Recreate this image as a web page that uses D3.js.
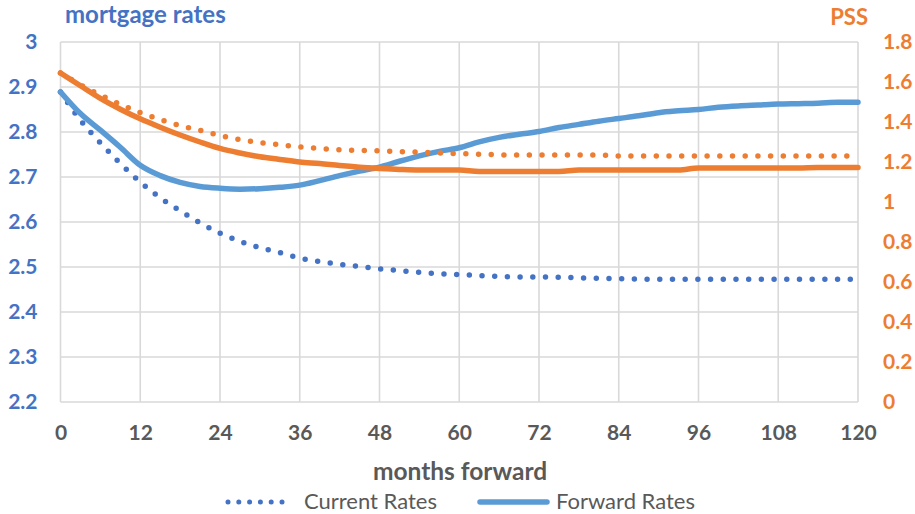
<!DOCTYPE html>
<html>
<head>
<meta charset="utf-8">
<script src="https://cdn.jsdelivr.net/npm/d3@7"></script>
<style>
  html, body { margin: 0; padding: 0; background: #ffffff; }
  svg { display: block; font-family: Lato, "Open Sans", sans-serif; }
</style>
</head>
<body>
<svg id="chart" width="915" height="514"></svg>
<script>
// Months forward (every 3 months)
const months = d3.range(0, 121, 3);

// Mortgage rates (left axis)
const currentRates = [
  2.889, 2.826, 2.776, 2.730, 2.689, 2.654, 2.625, 2.598, 2.575, 2.557,
  2.543, 2.532, 2.520, 2.512, 2.506, 2.501, 2.496, 2.492, 2.488, 2.485,
  2.483, 2.481, 2.479, 2.478, 2.478, 2.477, 2.476, 2.475, 2.474, 2.473,
  2.473, 2.473, 2.473, 2.473, 2.473, 2.473, 2.473, 2.473, 2.473, 2.473,
  2.473
];
const forwardRates = [
  2.889, 2.841, 2.804, 2.766, 2.726, 2.703, 2.688, 2.679, 2.675, 2.673,
  2.674, 2.677, 2.682, 2.692, 2.703, 2.713, 2.722, 2.735, 2.747, 2.757,
  2.765, 2.778, 2.788, 2.795, 2.801, 2.810, 2.817, 2.824, 2.830, 2.836,
  2.843, 2.847, 2.850, 2.855, 2.858, 2.860, 2.862, 2.863, 2.864, 2.866,
  2.866
];

// PSS (right axis)
const currentPSS = [
  1.645, 1.586, 1.535, 1.488, 1.447, 1.412, 1.382, 1.358, 1.332, 1.312,
  1.297, 1.286, 1.276, 1.268, 1.261, 1.258, 1.256, 1.252, 1.249, 1.245,
  1.242, 1.239, 1.236, 1.235, 1.235, 1.235, 1.235, 1.235, 1.230, 1.230,
  1.230, 1.230, 1.230, 1.230, 1.230, 1.230, 1.230, 1.230, 1.230, 1.230,
  1.230
];
const forwardPSS = [
  1.645, 1.581, 1.518, 1.464, 1.416, 1.374, 1.335, 1.300, 1.268, 1.245,
  1.226, 1.213, 1.200, 1.192, 1.182, 1.174, 1.168, 1.163, 1.160, 1.160,
  1.160, 1.152, 1.152, 1.152, 1.152, 1.152, 1.160, 1.160, 1.160, 1.160,
  1.160, 1.160, 1.170, 1.170, 1.170, 1.170, 1.170, 1.170, 1.173, 1.173,
  1.173
];

// Tick values
const xTicks = d3.range(0, 121, 12);
const leftTicks = [2.2, 2.3, 2.4, 2.5, 2.6, 2.7, 2.8, 2.9, 3];
const rightTicks = [0, 0.2, 0.4, 0.6, 0.8, 1, 1.2, 1.4, 1.6, 1.8];

// Labels
const leftTitle = "mortgage rates";
const rightTitle = "PSS";
const xTitle = "months forward";
const legendItems = ["Current Rates", "Forward Rates"];

const colors = {
  current: "#4472C4",
  forward: "#5B9BD5",
  pss: "#ED7D31",
  grid: "#D9D9D9",
  text: "#595959"
};

const svg = d3.select("#chart");
const plot = { left: 60.5, right: 858, top: 42, bottom: 402 };

const x = d3.scaleLinear().domain([0, 120]).range([plot.left, plot.right]);
const yL = d3.scaleLinear().domain([2.2, 3]).range([plot.bottom, plot.top]);
const yR = d3.scaleLinear().domain([0, 1.8]).range([plot.bottom, plot.top]);

// Gridlines
const grid = svg.append("g").attr("stroke", colors.grid).attr("stroke-width", 1.6);
grid.selectAll("line.h").data(leftTicks).join("line")
  .attr("x1", plot.left).attr("x2", plot.right)
  .attr("y1", d => yL(d)).attr("y2", d => yL(d));
grid.selectAll("line.v").data(xTicks).join("line")
  .attr("y1", plot.top).attr("y2", plot.bottom)
  .attr("x1", d => x(d)).attr("x2", d => x(d));

// Axes (labels only)
const fmt = d => String(+d.toFixed(1));
const axisFont = "Lato, 'Open Sans', sans-serif";

const gLeft = svg.append("g").attr("transform", `translate(${plot.left},0)`)
  .call(d3.axisLeft(yL).tickValues(leftTicks).tickFormat(fmt).tickSize(0).tickPadding(23));
const gRight = svg.append("g").attr("transform", `translate(${plot.right},0)`)
  .call(d3.axisRight(yR).tickValues(rightTicks).tickFormat(fmt).tickSize(0).tickPadding(25));
const gBottom = svg.append("g").attr("transform", `translate(0,${plot.bottom})`)
  .call(d3.axisBottom(x).tickValues(xTicks).tickFormat(d3.format("d")).tickSize(0).tickPadding(23));

[gLeft, gRight, gBottom].forEach(g => {
  g.select(".domain").remove();
  g.selectAll("text").attr("font-family", axisFont).attr("font-size", 21).attr("font-weight", 700);
});
gLeft.selectAll("text").attr("fill", colors.current);
gRight.selectAll("text").attr("fill", colors.pss);
gBottom.selectAll("text").attr("fill", colors.text);

// Series
const curve = d3.curveMonotoneX;
const lineL = vals => d3.line().curve(curve).x((d, i) => x(months[i])).y(d => yL(d))(vals);
const lineR = vals => d3.line().curve(curve).x((d, i) => x(months[i])).y(d => yR(d))(vals);

const series = svg.append("g").attr("fill", "none").attr("stroke-linejoin", "round");

series.append("path").attr("d", lineL(currentRates))
  .attr("stroke", colors.current).attr("stroke-width", 5.5)
  .attr("stroke-linecap", "round").attr("stroke-dasharray", "0 12.7");
series.append("path").attr("d", lineL(forwardRates))
  .attr("stroke", colors.forward).attr("stroke-width", 5.5).attr("stroke-linecap", "round");
series.append("path").attr("d", lineR(currentPSS))
  .attr("stroke", colors.pss).attr("stroke-width", 5.5)
  .attr("stroke-linecap", "round").attr("stroke-dasharray", "0 12.7");
series.append("path").attr("d", lineR(forwardPSS))
  .attr("stroke", colors.pss).attr("stroke-width", 5.5).attr("stroke-linecap", "round");

// Axis titles
svg.append("text").attr("x", 65).attr("y", 23)
  .attr("font-size", 24).attr("font-weight", 700).attr("fill", colors.current)
  .text(leftTitle);
svg.append("text").attr("x", 868).attr("y", 25).attr("text-anchor", "end")
  .attr("font-size", 22).attr("font-weight", 700).attr("fill", colors.pss)
  .text(rightTitle);
svg.append("text").attr("x", 460).attr("y", 480).attr("text-anchor", "middle")
  .attr("font-size", 24.5).attr("font-weight", 700).attr("fill", colors.text)
  .text(xTitle);

// Legend
const legend = svg.append("g");
legend.append("line").attr("x1", 228).attr("x2", 292).attr("y1", 502).attr("y2", 502)
  .attr("stroke", colors.current).attr("stroke-width", 5).attr("stroke-linecap", "round")
  .attr("stroke-dasharray", "0 10.8");
legend.append("text").attr("x", 304).attr("y", 509)
  .attr("font-size", 22).attr("fill", colors.text).text(legendItems[0]);
legend.append("line").attr("x1", 480).attr("x2", 547).attr("y1", 502).attr("y2", 502)
  .attr("stroke", colors.forward).attr("stroke-width", 5.5).attr("stroke-linecap", "round");
legend.append("text").attr("x", 556).attr("y", 509)
  .attr("font-size", 22).attr("fill", colors.text).text(legendItems[1]);
</script>
</body>
</html>
